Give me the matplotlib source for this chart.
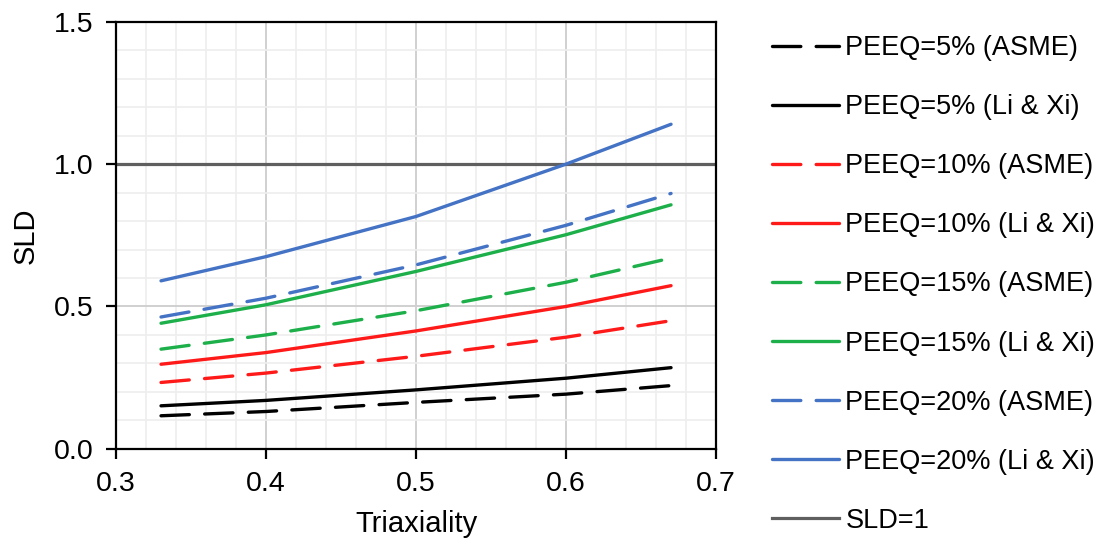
import numpy as np
import matplotlib
matplotlib.use("Agg")
import matplotlib.pyplot as plt
from matplotlib.ticker import MultipleLocator, FormatStrFormatter

plt.rcParams['font.family'] = ['Liberation Sans', 'DejaVu Sans']

# data
triaxiality = [0.33, 0.40, 0.50, 0.60, 0.67]

peeq5_asme  = [0.116, 0.131, 0.163, 0.192, 0.222]
peeq5_li    = [0.151, 0.170, 0.207, 0.248, 0.285]
peeq10_asme = [0.233, 0.266, 0.325, 0.392, 0.450]
peeq10_li   = [0.297, 0.338, 0.414, 0.500, 0.573]
peeq15_asme = [0.350, 0.400, 0.485, 0.585, 0.670]
peeq15_li   = [0.441, 0.506, 0.623, 0.752, 0.857]
peeq20_asme = [0.463, 0.529, 0.646, 0.785, 0.897]
peeq20_li   = [0.590, 0.675, 0.816, 1.000, 1.140]

sld_limit = 1.0

series = [
    ("PEEQ=5% (ASME)",     peeq5_asme,  "#000000", True),
    ("PEEQ=5% (Li & Xi)",  peeq5_li,    "#000000", False),
    ("PEEQ=10% (ASME)",    peeq10_asme, "#FF1A1A", True),
    ("PEEQ=10% (Li & Xi)", peeq10_li,   "#FF1A1A", False),
    ("PEEQ=15% (ASME)",    peeq15_asme, "#1DB04A", True),
    ("PEEQ=15% (Li & Xi)", peeq15_li,   "#1DB04A", False),
    ("PEEQ=20% (ASME)",    peeq20_asme, "#4472C4", True),
    ("PEEQ=20% (Li & Xi)", peeq20_li,   "#4472C4", False),
]

fig = plt.figure(figsize=(11.05, 5.44), dpi=100)
ax = fig.add_axes([0.105, 0.175, 0.543, 0.785])

for label, vals, color, dashed in series:
    line, = ax.plot(triaxiality, vals, color=color, lw=2.4, label=label,
                    solid_capstyle='round')
    if dashed:
        line.set_dashes((8.5, 4.6))
        line.set_dash_capstyle('round')

ax.axhline(sld_limit, color="#5f5f5f", lw=2.3, label="SLD=1", zorder=1.5)

ax.set_xlim(0.3, 0.7)
ax.set_ylim(0.0, 1.5)
ax.xaxis.set_major_locator(MultipleLocator(0.1))
ax.xaxis.set_minor_locator(MultipleLocator(0.02))
ax.yaxis.set_major_locator(MultipleLocator(0.5))
ax.yaxis.set_minor_locator(MultipleLocator(0.1))
ax.xaxis.set_major_formatter(FormatStrFormatter('%.1f'))
ax.yaxis.set_major_formatter(FormatStrFormatter('%.1f'))

ax.grid(which='minor', color='#eeeeee', lw=1.2)
ax.grid(which='major', color='#d0d0d0', lw=1.4)
ax.set_axisbelow(True)

for sp in ax.spines.values():
    sp.set_color('black')
    sp.set_linewidth(1.6)

ax.tick_params(which='major', direction='out', length=7, width=1.6,
               labelsize=20.5, pad=9)
ax.tick_params(which='minor', length=0)

ax.set_xlabel("Triaxiality", fontsize=21, labelpad=9)
ax.set_ylabel("SLD", fontsize=21, labelpad=10)

fig.legend(loc='upper left', bbox_to_anchor=(0.689, 0.955), frameon=False,
           fontsize=19.5, handlelength=2.45, handletextpad=0.25,
           labelspacing=1.22, borderaxespad=0)

fig.savefig("out.png", dpi=100)
